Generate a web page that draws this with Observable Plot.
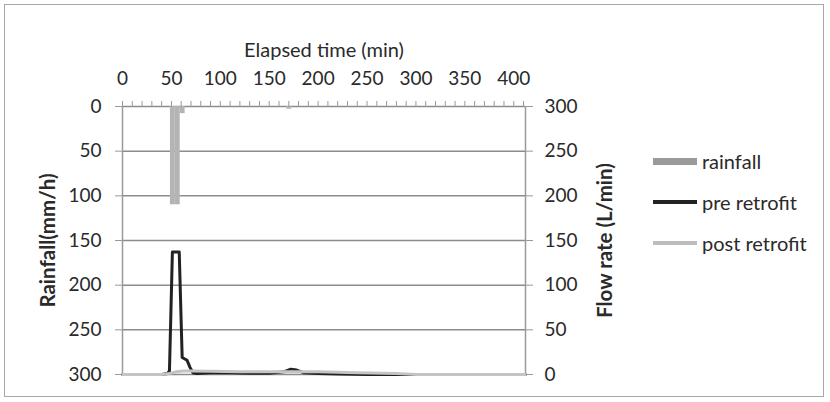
<!DOCTYPE html>
<html>
<head>
<meta charset="utf-8">
<script src="https://cdn.jsdelivr.net/npm/d3@7"></script>
<script src="https://cdn.jsdelivr.net/npm/@observablehq/plot@0.6"></script>
<style>
  html, body { margin: 0; padding: 0; background: #fff; }
  #wrap { position: relative; width: 830px; height: 402px; font-family: Lato, "Open Sans", sans-serif; color: #2a2a2a; }
  #frame { position: absolute; left: 4px; top: 4px; width: 820px; height: 393px; border: 1px solid #a8a8a8; box-sizing: border-box; pointer-events: none; }
  .leg { position: absolute; left: 653px; display: flex; align-items: center; font-size: 20px; line-height: 20px; color: #2a2a2a; }
  .sw { width: 44px; margin-right: 5px; }
</style>
</head>
<body>
<div id="wrap">
  <div id="chart"></div>
  <div id="frame"></div>
  <div class="leg" style="top:151px"><div class="sw" style="height:7px;background:#9a9a9a"></div><span>rainfall</span></div>
  <div class="leg" style="top:192px"><div class="sw" style="height:4px;background:#222"></div><span>pre retrofit</span></div>
  <div class="leg" style="top:233px"><div class="sw" style="height:4px;background:#bdbdbd"></div><span>post retrofit</span></div>
</div>
<script>
// Rainfall (mm/h), 5-minute bins starting at the given time (min)
const rainStart = [49, 54, 59, 168];
const rainValue = [110, 110, 8, 3];
const rainBin = 5;

// Flow rate pre retrofit (L/min)
const preTime = [0, 20, 40, 46, 48, 51, 58, 61, 66, 69, 72, 76, 90, 110, 130, 150, 165, 172, 178, 185, 200, 220, 250, 300, 350, 412];
const preFlow = [0, 0, 0, 1, 4, 137, 137, 19, 16, 8, 2, 1, 2, 2, 1.5, 1.5, 3, 6, 5, 2, 1, 0.5, 0, 0, 0, 0];

// Flow rate post retrofit (L/min)
const postTime = [0, 40, 48, 55, 62, 70, 90, 120, 160, 200, 240, 280, 300, 350, 412];
const postFlow = [0, 0, 1, 3, 4, 4, 3.5, 3, 3, 3, 2, 1, 0, 0, 0];

// Axis tick values
const xTicks = d3.range(0, 411, 10);
const yTicks = [0, 50, 100, 150, 200, 250, 300];
const xMax = 412;
const yMax = 300;

const rain = rainStart.map((t, i) => ({t, r: rainValue[i]}));
const pre = preTime.map((t, i) => ({t, q: preFlow[i]}));
const post = postTime.map((t, i) => ({t, q: postFlow[i]}));

const plot = Plot.plot({
  width: 830,
  height: 402,
  marginLeft: 122,
  marginRight: 305,
  marginTop: 106,
  marginBottom: 28,
  x: {domain: [0, xMax]},
  y: {domain: [0, yMax]},
  style: {fontFamily: "Lato, 'Open Sans', sans-serif", fontSize: "19px", color: "#2a2a2a", background: "transparent"},
  marks: [
    Plot.gridY(yTicks, {stroke: "#8c8c8c", strokeOpacity: 1, strokeWidth: 1.5}),
    Plot.ruleX([0, xMax], {stroke: "#9a9a9a", strokeWidth: 1.5}),
    Plot.rect(rain, {x1: "t", x2: d => d.t + rainBin, y1: yMax, y2: d => yMax - d.r, fill: "#b4b4b4"}),
    Plot.line(pre, {x: "t", y: "q", stroke: "#222", strokeWidth: 3}),
    Plot.line(post, {x: "t", y: "q", stroke: "#c4c4c4", strokeWidth: 3}),
    Plot.axisX({anchor: "top", ticks: xTicks, tickSize: 6, tickPadding: 16, stroke: "#999",
      tickFormat: d => d % 50 === 0 ? String(d) : "", label: null}),
    Plot.axisY({anchor: "left", ticks: yTicks, tickSize: 7, tickPadding: 14, stroke: "#999",
      tickFormat: d => String(yMax - d), label: null}),
    Plot.axisY({anchor: "right", ticks: yTicks, tickSize: 7, tickPadding: 12, stroke: "#999",
      tickFormat: d => String(d), label: null}),
    Plot.text(["Elapsed time (min)"], {frameAnchor: "top", dy: -64, fontSize: 20, fill: "#2a2a2a"}),
    Plot.text(["Rainfall(mm/h)"], {frameAnchor: "left", dx: -74, rotate: -90, textAnchor: "middle", fontSize: 20.5, fontWeight: "bold", fill: "#2a2a2a"}),
    Plot.text(["Flow rate (L/min)"], {frameAnchor: "right", dx: 80, rotate: -90, textAnchor: "middle", fontSize: 20.5, fontWeight: "bold", fill: "#2a2a2a"})
  ]
});
document.getElementById("chart").appendChild(plot);
</script>
</body>
</html>
